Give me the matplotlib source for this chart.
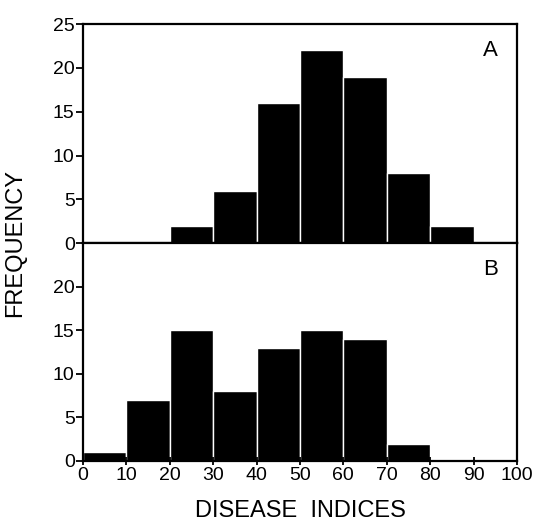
import numpy as np
import matplotlib
matplotlib.use("Agg")
import matplotlib.pyplot as plt

plt.rcParams['font.family'] = ['Liberation Sans', 'DejaVu Sans']

# bin left edges (disease index), width 10
bin_edges = [0, 10, 20, 30, 40, 50, 60, 70, 80, 90, 100]
freq_a = [0, 0, 2, 6, 16, 22, 19, 8, 2, 0]
freq_b = [1, 7, 15, 8, 13, 15, 14, 2, 0, 0]
x_ticks = [0, 10, 20, 30, 40, 50, 60, 70, 80, 90, 100]
panel_labels = ["A", "B"]

fig = plt.figure(figsize=(5.37, 5.25), dpi=100)
ax_a = fig.add_axes([0.1546, 0.537, 0.808, 0.417])
ax_b = fig.add_axes([0.1546, 0.122, 0.808, 0.415], sharex=ax_a)

left = np.array(bin_edges[:-1])
width = np.diff(bin_edges)

for ax, freq, lab, yt in [(ax_a, freq_a, "A", [0, 5, 10, 15, 20, 25]),
                           (ax_b, freq_b, "B", [0, 5, 10, 15, 20])]:
    ax.bar(left, freq, width=width, align="edge", color="black",
           edgecolor="white", linewidth=1.0)
    ax.set_xlim(0, 100)
    ax.set_ylim(0, 25)
    ax.set_yticks(yt)
    ax.set_xticks(x_ticks)
    for s in ax.spines.values():
        s.set_linewidth(1.6)
    ax.tick_params(axis="y", direction="out", length=5, width=1.3, labelsize=14, pad=1)
    ax.tick_params(axis="x", direction="inout", length=6, width=1.3, labelsize=14, pad=1)
    ax.text(0.94, 0.88, lab, transform=ax.transAxes, fontsize=16, ha="center", va="center")

ax_a.tick_params(axis="x", labelbottom=False, direction="out", length=4)

fig.text(0.028, 0.537, "FREQUENCY", rotation=90, fontsize=17, ha="center", va="center")
fig.text(0.56, 0.027, "DISEASE  INDICES", fontsize=17, ha="center", va="center")

plt.savefig("out.png", dpi=100)
